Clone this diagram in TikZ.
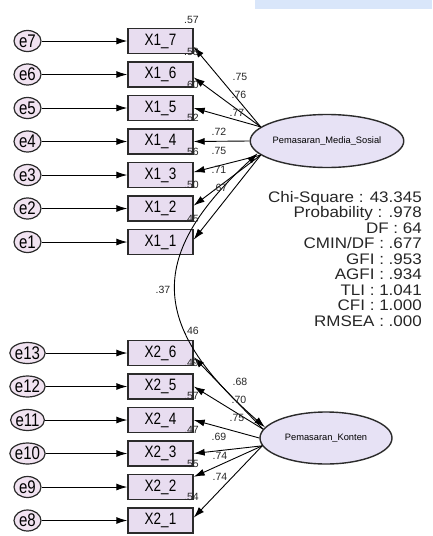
\documentclass[tikz,border=0pt]{standalone}
\usepackage{fontspec}
\usepackage{graphicx}
\usetikzlibrary{shapes.geometric,arrows.meta}
\newfontfamily\arialf{Liberation Sans}
\newcommand\myBoxFont{\arialf\fontsize{13.5}{15}\selectfont}
\newcommand\myErrFont{\arialf\fontsize{15}{16}\selectfont}
\newcommand\myLatFont{\arialf\fontsize{9.3}{11}\selectfont}
\newcommand\myNumFont{\arialf\fontsize{10.5}{12}\selectfont}
\newcommand\myStatFont{\arialf\fontsize{17}{18}\selectfont}
\newcommand\tallT[1]{\scalebox{1}[1.22]{#1}}
\newcommand\flatT[1]{\scalebox{1}[0.9]{#1}}
\definecolor{boxline}{HTML}{2B2B2B}
\definecolor{boxfill}{HTML}{E8DDF0}
\definecolor{latfill}{HTML}{E7E2F5}
\definecolor{errfill}{HTML}{F1E3F1}
\definecolor{topband}{HTML}{D9E6FA}
\tikzset{
  obs/.style={rectangle, draw=boxline, fill=boxfill, line width=1.4pt,
    minimum width=65pt, minimum height=25pt, inner sep=0pt, font=\myBoxFont},
  err/.style={ellipse, draw=boxline, fill=errfill, line width=1.2pt,
    minimum width=27pt, minimum height=21pt, inner sep=0pt, font=\myErrFont},
  lat/.style={ellipse, draw=boxline, fill=latfill, line width=1.4pt,
    inner sep=0pt, font=\myLatFont},
  parrow/.style={-{Latex[length=11pt,width=7pt]}, line width=0.9pt, black},
  covarrow/.style={{Latex[length=11pt,width=7pt]}-{Latex[length=11pt,width=7pt]}, line width=0.9pt, black},
  num/.style={font=\myNumFont, inner sep=0pt, text=black!85},
  rsq/.style={font=\myNumFont, inner sep=0pt, anchor=east, text=black!85},
  stat/.style={font=\myStatFont, anchor=base east, inner sep=0pt, text=black!85,
    text height=11pt, text depth=2.5pt}
}
\begin{document}
\begin{tikzpicture}[x=1pt,y=-1pt]
\useasboundingbox (0,0) rectangle (432,536);
\fill[white] (0,0) rectangle (432,536);
\fill[topband] (255,0) rectangle (432,9);

% latent variables
\node[lat, minimum width=129pt, minimum height=53pt] (ms) at (327,141) {Pemasaran\_Media\_Sosial};
\node[lat, minimum width=132pt, minimum height=52pt] (kn) at (326,438) {Pemasaran\_Konten};

% upper indicators
\foreach \n/\y/\e in {7/41/7, 6/74.5/6, 5/108/5, 4/141.5/4, 3/175/3, 2/208.5/2, 1/242/1}{
  \node[obs] (x1\n) at (160.5,\y) {\tallT{X1\_\n}};
  \node[err] (e\e) at (27.5,\y) {\tallT{e\e}};
  \draw[parrow] (e\e) -- (x1\n.west);
}
% lower indicators
\foreach \n/\y/\e in {6/353/13, 5/386.5/12, 4/420/11, 3/453.5/10, 2/487/9, 1/520.5/8}{
  \node[obs] (x2\n) at (160.5,\y) {\tallT{X2\_\n}};
  \node[err] (e\e) at (27.5,\y) {\tallT{e\e}};
  \draw[parrow] (e\e) -- (x2\n.west);
}

% loadings upper
\draw[parrow] (ms.168) -- (x17.-10);
\draw[parrow] (ms.168) -- (x16.-5);
\draw[parrow] (ms.168) -- (x15.east);
\draw[parrow] (ms.west) -- (x14.east);
\draw[parrow] (ms.192) -- (x13.5);
\draw[parrow] (ms.192) -- (x12.5);
\draw[parrow] (ms.192) -- (x11.4);

% loadings lower
\draw[parrow] (kn.172) -- (x26.-7);
\draw[parrow] (kn.172) -- (x25.east);
\draw[parrow] (kn.west) -- (x24.east);
\draw[parrow] (kn.187) -- (x23.east);
\draw[parrow] (kn.187) -- (x22.17);
\draw[parrow] (kn.187) -- (x21.5);

% covariance
\draw[covarrow] (ms.190) .. controls (148,254) and (148,325) .. (kn.170);
\node[num] (cov) at (163,290) {.37};

% loading labels upper
\node[num] (l17) at (240,77) {.75};
\node[num] (l16) at (239,95) {.76};
\node[num] (l15) at (237,113) {.77};
\node[num] (l14) at (219,132) {.72};
\node[num] (l13) at (219,151) {.75};
\node[num] (l12) at (219,170) {.71};
\node[num] (l11) at (220,188) {.67};

% loading labels lower
\node[num] (l26) at (240,382) {.68};
\node[num] (l25) at (239,400) {.70};
\node[num] (l24) at (237,418) {.75};
\node[num] (l23) at (219,437) {.69};
\node[num] (l22) at (220,456) {.74};
\node[num] (l21) at (220,477) {.74};

% squared multiple correlations
\node[rsq] (r17) at (199,20) {.57};
\node[rsq] (r16) at (199,52) {.58};
\node[rsq] (r15) at (199,85) {.60};
\node[rsq] (r14) at (199,118) {.52};
\node[rsq] (r13) at (199,152) {.56};
\node[rsq] (r12) at (199,185) {.50};
\node[rsq] (r11) at (199,219) {.45};
\node[rsq] (r26) at (199,331) {.46};
\node[rsq] (r25) at (199,363) {.49};
\node[rsq] (r24) at (199,396) {.57};
\node[rsq] (r23) at (199,430) {.47};
\node[rsq] (r22) at (199,464) {.55};
\node[rsq] (r21) at (199,497) {.54};

% fit statistics
\node[stat] (s1) at (422,202) {\flatT{Chi-Square : 43.345}};
\node[stat] (s2) at (422,217.5) {\flatT{Probability : .978}};
\node[stat] (s3) at (422,233) {\flatT{DF : 64}};
\node[stat] (s4) at (422,248.5) {\flatT{CMIN/DF : .677}};
\node[stat] (s5) at (422,264) {\flatT{GFI : .953}};
\node[stat] (s6) at (422,279.5) {\flatT{AGFI : .934}};
\node[stat] (s7) at (422,295) {\flatT{TLI : 1.041}};
\node[stat] (s8) at (422,310.5) {\flatT{CFI : 1.000}};
\node[stat] (s9) at (422,326) {\flatT{RMSEA : .000}};
\end{tikzpicture}
\end{document}
